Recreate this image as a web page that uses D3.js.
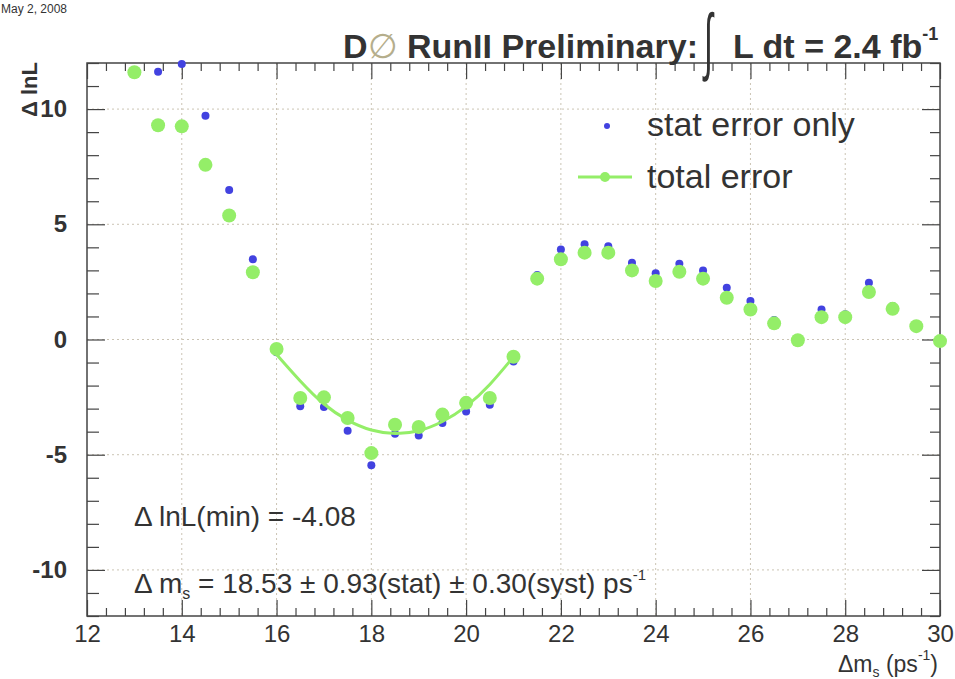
<!DOCTYPE html>
<html>
<head>
<meta charset="utf-8">
<script src="https://d3js.org/d3.v7.min.js"></script>
<style>
  body { margin: 0; background: #fff; }
  text { font-family: 'Liberation Sans', Arial, Helvetica, sans-serif; fill: #333; }
</style>
</head>
<body>
<svg></svg>
<script>
// values
var massPoints = [13, 13.5, 14, 14.5, 15, 15.5, 16, 16.5, 17, 17.5, 18, 18.5, 19, 19.5, 20, 20.5, 21,
  21.5, 22, 22.5, 23, 23.5, 24, 24.5, 25, 25.5, 26, 26.5, 27, 27.5, 28, 28.5, 29, 29.5, 30];
var totalErrorLnL = [11.6, 9.3, 9.25, 7.58, 5.38, 2.92, -0.41, -2.54, -2.51, -3.41, -4.93, -3.7, -3.8, -3.26, -2.75, -2.54, -0.75,
  2.64, 3.48, 3.77, 3.77, 3.0, 2.54, 2.94, 2.64, 1.81, 1.3, 0.7, -0.03, 0.97, 0.97, 2.06, 1.33, 0.58, -0.07];
var statErrorLnL = [null, 11.62, 11.96, 9.71, 6.49, 3.48, -0.55, -2.9, -2.93, -3.96, -5.46, -4.09, -4.17, -3.62, -3.12, -2.83, -0.95,
  2.8, 3.91, 4.13, 4.05, 3.33, 2.87, 3.29, 3.0, 2.25, 1.67, 0.85, 0.05, 1.3, 1.1, 2.46, 1.45, 0.65, 0.0];
var fitMass = [16, 16.5, 17, 17.5, 18, 18.5, 19, 19.5, 20, 20.5, 21];
var fitLnL = [-0.65, -1.8, -2.8, -3.5, -3.93, -4.08, -3.96, -3.56, -2.9, -1.95, -0.75];

var xMajorTicks = [12, 14, 16, 18, 20, 22, 24, 26, 28, 30];
var yMajorTicks = [-10, -5, 0, 5, 10];
var legendLabels = ['stat error only', 'total error'];

var width = 955;
var height = 679;
var plot = { left: 87, right: 940, top: 63, bottom: 616 };
var green = '#94ee68';
var blue = '#4242e0';

var svg = d3.select('svg')
  .attr('width', width)
  .attr('height', height);

var scaleX = d3.scaleLinear()
  .domain([12, 30])
  .range([plot.left, plot.right]);
var scaleY = d3.scaleLinear()
  .domain([-12, 12])
  .range([plot.bottom, plot.top]);

var xMinorTicks = d3.range(12, 30.001, 0.4).filter(function(v) {
  return Math.abs(v / 2 - Math.round(v / 2)) > 0.01;
});
var yMinorTicks = d3.range(-12, 12.001, 1).filter(function(v) {
  return v % 5 !== 0;
});

// dotted grid
var grid = svg.append('g')
  .attr('stroke', '#cbc4b4')
  .attr('stroke-width', 1)
  .attr('stroke-dasharray', '2,3');
grid.selectAll('.gx')
  .data(xMajorTicks.slice(1, -1))
  .enter().append('line')
  .attr('x1', function(d) { return scaleX(d); })
  .attr('x2', function(d) { return scaleX(d); })
  .attr('y1', plot.top)
  .attr('y2', plot.bottom);
grid.selectAll('.gy')
  .data(yMajorTicks)
  .enter().append('line')
  .attr('x1', plot.left)
  .attr('x2', plot.right)
  .attr('y1', function(d) { return scaleY(d); })
  .attr('y2', function(d) { return scaleY(d); });

// axes with inward ticks
function drawAxis(axis, transform, klass) {
  var g = svg.append('g')
    .attr('class', klass)
    .attr('transform', transform)
    .call(axis);
  g.select('.domain').remove();
  g.selectAll('line').attr('stroke', '#444').attr('stroke-width', 1.2);
  return g;
}

function plainNumber(d) {
  return String(d);
}

var bottomMajor = drawAxis(d3.axisBottom(scaleX).tickValues(xMajorTicks).tickSize(-16).tickPadding(9).tickFormat(plainNumber),
  'translate(0,' + plot.bottom + ')', 'x-axis');
bottomMajor.selectAll('text')
  .attr('font-size', 24)
  .attr('fill', '#333')
  .attr('font-family', "'Liberation Sans', Arial, sans-serif");
drawAxis(d3.axisBottom(scaleX).tickValues(xMinorTicks).tickSize(-8).tickFormat(''),
  'translate(0,' + plot.bottom + ')', 'x-minor');
drawAxis(d3.axisTop(scaleX).tickValues(xMajorTicks).tickSize(-16).tickFormat(''),
  'translate(0,' + plot.top + ')', 'x-top');
drawAxis(d3.axisTop(scaleX).tickValues(xMinorTicks).tickSize(-8).tickFormat(''),
  'translate(0,' + plot.top + ')', 'x-top-minor');

var leftMajor = drawAxis(d3.axisLeft(scaleY).tickValues(yMajorTicks).tickSize(-18).tickPadding(20).tickFormat(plainNumber),
  'translate(' + plot.left + ',0)', 'y-axis');
leftMajor.selectAll('text')
  .attr('font-size', 24)
  .attr('font-weight', 'bold')
  .attr('fill', '#555')
  .attr('font-family', "'Liberation Sans', Arial, sans-serif");
drawAxis(d3.axisLeft(scaleY).tickValues(yMinorTicks).tickSize(-12).tickFormat(''),
  'translate(' + plot.left + ',0)', 'y-minor');
drawAxis(d3.axisRight(scaleY).tickValues(yMajorTicks).tickSize(-18).tickFormat(''),
  'translate(' + plot.right + ',0)', 'y-right');
drawAxis(d3.axisRight(scaleY).tickValues(yMinorTicks).tickSize(-10).tickFormat(''),
  'translate(' + plot.right + ',0)', 'y-right-minor');

svg.append('rect')
  .attr('x', plot.left)
  .attr('y', plot.top)
  .attr('width', plot.right - plot.left)
  .attr('height', plot.bottom - plot.top)
  .attr('fill', 'none')
  .attr('stroke', '#444')
  .attr('stroke-width', 1.5);

var points = massPoints.map(function(m, i) {
  return { mass: m, total: totalErrorLnL[i], stat: statErrorLnL[i] };
});

// stat error only (blue), drawn under the green
svg.append('g').selectAll('circle')
  .data(points.filter(function(p) { return p.stat !== null; }))
  .enter().append('circle')
  .attr('cx', function(p) { return scaleX(p.mass); })
  .attr('cy', function(p) { return scaleY(p.stat); })
  .attr('r', 4)
  .attr('fill', blue);

// parabola fit
var fitLine = d3.line()
  .x(function(d, i) { return scaleX(fitMass[i]); })
  .y(function(d) { return scaleY(d); })
  .curve(d3.curveNatural);
svg.append('path')
  .datum(fitLnL)
  .attr('d', fitLine)
  .attr('fill', 'none')
  .attr('stroke', green)
  .attr('stroke-width', 3);

// total error (green)
svg.append('g').selectAll('circle')
  .data(points)
  .enter().append('circle')
  .attr('cx', function(p) { return scaleX(p.mass); })
  .attr('cy', function(p) { return scaleY(p.total); })
  .attr('r', 7)
  .attr('fill', green);

// legend
svg.append('circle')
  .attr('cx', 607)
  .attr('cy', 126)
  .attr('r', 3)
  .attr('fill', blue);
svg.append('text')
  .attr('x', 647)
  .attr('y', 136)
  .attr('font-size', 34)
  .attr('fill', '#555')
  .text(legendLabels[0]);
svg.append('line')
  .attr('x1', 578)
  .attr('x2', 632)
  .attr('y1', 177)
  .attr('y2', 177)
  .attr('stroke', green)
  .attr('stroke-width', 3);
svg.append('circle')
  .attr('cx', 605)
  .attr('cy', 177)
  .attr('r', 5)
  .attr('fill', green);
svg.append('text')
  .attr('x', 647)
  .attr('y', 188)
  .attr('font-size', 34)
  .attr('fill', '#555')
  .text(legendLabels[1]);

// title
var title = svg.append('text')
  .attr('x', 343)
  .attr('y', 58)
  .attr('font-size', 34)
  .attr('font-weight', 'bold');
title.append('tspan').text('D');
title.append('tspan').attr('fill', '#b5ae8c').attr('font-weight', 'normal').text('\u2205');
title.append('tspan').text(' RunII Preliminary:');
svg.append('text')
  .attr('transform', 'translate(704,66) scale(1,2.3)')
  .attr('font-size', 32)
  .text('\u222B');
var titleRight = svg.append('text')
  .attr('x', 733)
  .attr('y', 58)
  .attr('font-size', 34)
  .attr('font-weight', 'bold');
titleRight.append('tspan').text('L dt = 2.4 fb');
titleRight.append('tspan').attr('font-size', 18).attr('dy', -18).text('-1');

// date stamp
svg.append('text')
  .attr('x', 1)
  .attr('y', 13)
  .attr('font-size', 12)
  .attr('fill', '#555')
  .text('May 2, 2008');

// axis titles
svg.append('text')
  .attr('transform', 'translate(37,62) rotate(-90)')
  .attr('text-anchor', 'end')
  .attr('font-size', 22)
  .attr('font-weight', 'bold')
  .attr('fill', '#555')
  .text('\u0394 lnL');

var xTitle = svg.append('text')
  .attr('x', 938)
  .attr('y', 672)
  .attr('text-anchor', 'end')
  .attr('font-size', 23)
  .attr('fill', '#444');
xTitle.append('tspan').text('\u0394m');
xTitle.append('tspan').attr('font-size', 14).attr('dy', 5).text('s');
xTitle.append('tspan').attr('dy', -5).text(' (ps');
xTitle.append('tspan').attr('font-size', 14).attr('dy', -12).text('-1');
xTitle.append('tspan').attr('dy', 12).text(')');

// fit results
svg.append('text')
  .attr('x', 134)
  .attr('y', 526)
  .attr('font-size', 28)
  .text('\u0394 lnL(min) = -4.08');

var result = svg.append('text')
  .attr('x', 134)
  .attr('y', 593)
  .attr('font-size', 28);
result.append('tspan').text('\u0394 m');
result.append('tspan').attr('font-size', 16).attr('dy', 6).text('s');
result.append('tspan').attr('dy', -6).text(' = 18.53 \u00B1 0.93(stat) \u00B1 0.30(syst) ps');
result.append('tspan').attr('font-size', 15).attr('dy', -13).text('-1');
</script>
</body>
</html>
